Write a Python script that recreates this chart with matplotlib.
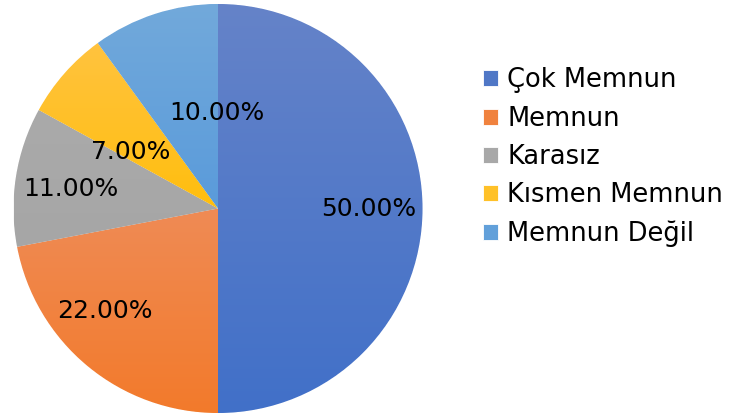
import matplotlib.pyplot as plt
import numpy as np
from matplotlib.colors import LinearSegmentedColormap

labels = ["Çok Memnun", "Memnun", "Karasız", "Kısmen Memnun", "Memnun Değil"]
values = [50, 22, 11, 7, 10]
top_colors = ["#6583C9", "#EF8B55", "#AAAAAA", "#FFC33F", "#72A9DB"]
bottom_colors = ["#4170C8", "#F37A2B", "#A6A6A6", "#FFBE0E", "#5A9BDA"]
base_colors = ["#4F77C6", "#F0823E", "#A8A8A8", "#FFC128", "#62A0DA"]
# label spots picked to match the Excel "best fit" placement
label_xy = [(0.738, 0.0), (-0.553, -0.499), (-0.719, 0.093), (-0.425, 0.274), (-0.005, 0.469)]

fig = plt.figure(figsize=(7.31, 4.17), dpi=100)
ax = fig.add_axes([13.5 / 731, 4 / 417, 409 / 731, 409 / 417])

wedges, _ = ax.pie(values, colors=base_colors, startangle=90, counterclock=False,
                   radius=1, center=(0, 0), frame=True,
                   wedgeprops=dict(edgecolor="white", linewidth=0.6))

# vertical gradient inside each slice
for w, c0, c1 in zip(wedges, top_colors, bottom_colors):
    ext = w.get_path().get_extents()
    cmap = LinearSegmentedColormap.from_list("g", [c1, c0])
    grad = np.linspace(0, 1, 256).reshape(-1, 1)
    im = ax.imshow(grad, cmap=cmap, origin="lower", aspect="auto",
                   extent=[ext.x0, ext.x1, ext.y0, ext.y1], zorder=w.get_zorder() + 0.1)
    im.set_clip_path(w)

for (x, y), v in zip(label_xy, values):
    ax.text(x, y, "%.2f%%" % v, ha="center", va="center", fontsize=18, color="black", zorder=5)

ax.set_xlim(-1, 1)
ax.set_ylim(-1, 1)
ax.set_aspect("equal")
ax.axis("off")

leg = fig.legend(wedges, labels, loc="upper left", bbox_to_anchor=(473 / 731, 1 - 57 / 417),
                 frameon=False, fontsize=18.5, handlelength=0.58, handleheight=0.58,
                 handletextpad=0.35, labelspacing=0.48, borderaxespad=0)

fig.savefig("out.png", dpi=100)
